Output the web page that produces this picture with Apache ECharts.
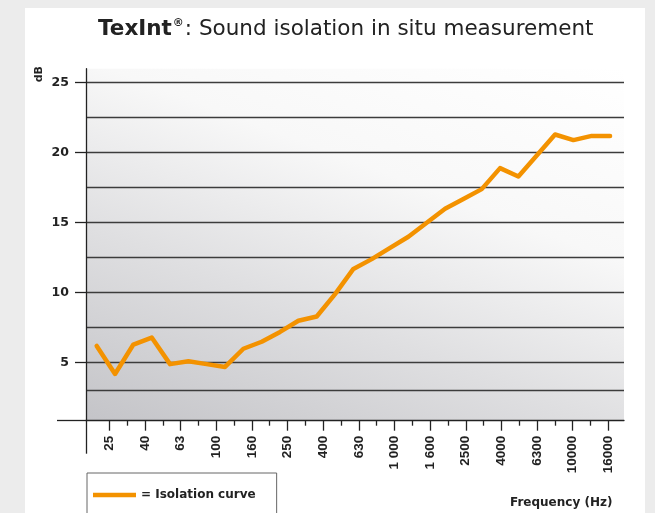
<!DOCTYPE html>
<html>
<head>
<meta charset="utf-8">
<script src="https://cdn.jsdelivr.net/npm/echarts@6/dist/echarts.min.js"></script>
<style>
  html, body { margin: 0; padding: 0; }
  #wrap { position: relative; width: 655px; height: 513px; background: #ececec; overflow: hidden; }
  #panel { position: absolute; left: 25px; top: 8px; width: 620px; height: 505px; background: #fff; }
  #chart { position: absolute; left: 0; top: 0; width: 655px; height: 513px; }
</style>
</head>
<body>
<div id="wrap"><div id="panel"></div><div id="chart"></div></div>
<script>
// third-octave bands (Hz)
const bands = ['25', '31.5', '40', '50', '63', '80', '100', '125', '160', '200', '250', '315', '400', '500', '630',
  '800', '1000', '1250', '1600', '2000', '2500', '3150', '4000', '5000', '6300', '8000', '10000', '12500', '16000']
// printed under the axis, every other band
const bandLabels = ['25', '', '40', '', '63', '', '100', '', '160', '', '250', '', '400', '', '630',
  '', '1 000', '', '1 600', '', '2500', '', '4000', '', '6300', '', '10000', '', '16000']
// isolation in dB, one value per band
const isolation = [6.2, 4.2, 6.3, 6.8, 4.9, 5.1, 4.9, 4.7, 6.0, 6.5, 7.2, 8.0, 8.3, 9.9, 11.7,
  12.4, 13.2, 14.0, 15.0, 16.0, 16.7, 17.4, 18.9, 18.3, 19.8, 21.3, 20.9, 21.2, 21.2]
const yLabels = [5, 10, 15, 20, 25]
const yGrid = [3, 5, 7.5, 10, 12.5, 15, 17.5, 20, 22.5, 25]

const Y_MIN = 0.86
const Y_MAX = 26
// the curve and the tick marks sit on slightly different scales in the original
const LINE_MIN = -0.584
const LINE_MAX = 28.76
const TICK_MIN = -1.31
const TICK_MAX = 28.88

const majorIdx = bands.map((b, i) => i).filter(i => bandLabels[i] !== '')
const minorIdx = bands.map((b, i) => i).filter(i => bandLabels[i] === '')

const axisColor = '#222'
const orange = '#f39200'

const chart = echarts.init(document.getElementById('chart'))

const baseX = {
  type: 'value',
  min: TICK_MIN,
  max: TICK_MAX,
  position: 'bottom',
  axisLine: { show: false, onZero: false },
  axisLabel: { show: false },
  splitLine: { show: false }
}
const baseY = {
  type: 'value',
  min: Y_MIN,
  max: Y_MAX,
  position: 'left',
  axisLine: { show: false, onZero: false },
  axisLabel: { show: false },
  splitLine: { show: false }
}

chart.setOption({
  animation: false,
  title: {
    left: 93,
    top: 13,
    text: '{b|TexInt}{sup|®}{r|: Sound isolation in situ measurement}',
    textStyle: {
      fontWeight: 'normal',
      rich: {
        b: { fontFamily: 'DejaVu Sans', fontWeight: 'bold', fontSize: 21.5, color: '#222' },
        sup: { fontFamily: 'DejaVu Sans', fontWeight: 'bold', fontSize: 11, color: '#222', verticalAlign: 'top', padding: [0, 1, 0, 1] },
        r: { fontFamily: 'DejaVu Sans', fontWeight: 'normal', fontSize: 21.5, color: '#222' }
      }
    }
  },
  legend: {
    left: 87,
    top: 473,
    padding: [16, 21, 30, 6],
    borderColor: '#666',
    borderWidth: 1,
    icon: 'rect',
    itemWidth: 43,
    itemHeight: 4.5,
    formatter: '= {name}',
    textStyle: { fontFamily: 'DejaVu Sans', fontWeight: 'bold', fontSize: 12, color: '#222' },
    data: ['Isolation curve']
  },
  graphic: [
    {
      type: 'text',
      left: 34,
      top: 66,
      rotation: Math.PI / 2,
      style: { text: 'dB', font: 'bold 11px "DejaVu Sans"', fill: '#222' }
    },
    {
      type: 'text',
      left: 510,
      top: 497,
      style: { text: 'Frequency (Hz)', font: 'bold 12px "DejaVu Sans"', fill: '#222' }
    }
  ],
  grid: {
    left: 86,
    right: 31,
    top: 68.7,
    bottom: 92.3,
    show: true,
    borderWidth: 0,
    backgroundColor: new echarts.graphic.LinearGradient(0, 1, 0.34, -0.38, [
      { offset: 0, color: '#c4c4c8' },
      { offset: 0.35, color: '#dfdfe1' },
      { offset: 0.65, color: '#f8f8f8' },
      { offset: 1, color: '#ffffff' }
    ])
  },
  xAxis: [
    // axis of the curve
    Object.assign({}, baseX, { min: LINE_MIN, max: LINE_MAX, show: false }),
    // labelled ticks + axis line
    Object.assign({}, baseX, {
      axisLine: { show: true, onZero: false, lineStyle: { color: axisColor, width: 1.3 } },
      axisTick: { show: true, customValues: majorIdx, length: 10, lineStyle: { color: axisColor, width: 1.3 } },
      axisLabel: {
        show: true,
        customValues: majorIdx,
        rotate: 90,
        margin: 15,
        formatter: v => bandLabels[Math.round(v)],
        fontFamily: 'Liberation Sans',
        fontWeight: 'bold',
        fontSize: 13.5,
        color: '#222'
      }
    }),
    // short ticks between labels
    Object.assign({}, baseX, {
      axisTick: { show: true, customValues: minorIdx, length: 5, lineStyle: { color: axisColor, width: 1.3 } }
    }),
    // y axis running on below the x axis
    Object.assign({}, baseX, {
      axisTick: { show: true, customValues: [TICK_MIN], length: 33, lineStyle: { color: axisColor, width: 1.3 } }
    })
  ],
  yAxis: [
    Object.assign({}, baseY, {
      axisLine: { show: true, onZero: false, lineStyle: { color: axisColor, width: 1.3 } },
      axisTick: { show: false, customValues: yGrid },
      splitLine: { show: true, lineStyle: { color: '#3c3c3c', width: 1.4 } }
    }),
    Object.assign({}, baseY, {
      axisTick: { show: true, customValues: yLabels, length: 11, lineStyle: { color: axisColor, width: 1.3 } },
      axisLabel: {
        show: true,
        customValues: yLabels,
        margin: 17,
        fontFamily: 'DejaVu Sans',
        fontWeight: 'bold',
        fontSize: 12.5,
        color: '#222'
      }
    }),
    // x axis running on left of the y axis
    Object.assign({}, baseY, {
      axisTick: { show: true, customValues: [Y_MIN], length: 29, lineStyle: { color: axisColor, width: 1.3 } }
    })
  ],
  series: [
    {
      name: 'Isolation curve',
      type: 'line',
      xAxisIndex: 0,
      yAxisIndex: 0,
      symbol: 'none',
      itemStyle: { color: orange },
      lineStyle: { color: orange, width: 4.5, join: 'round', cap: 'round' },
      data: isolation.map((v, i) => [i, v])
    }
  ]
})
</script>
</body>
</html>
